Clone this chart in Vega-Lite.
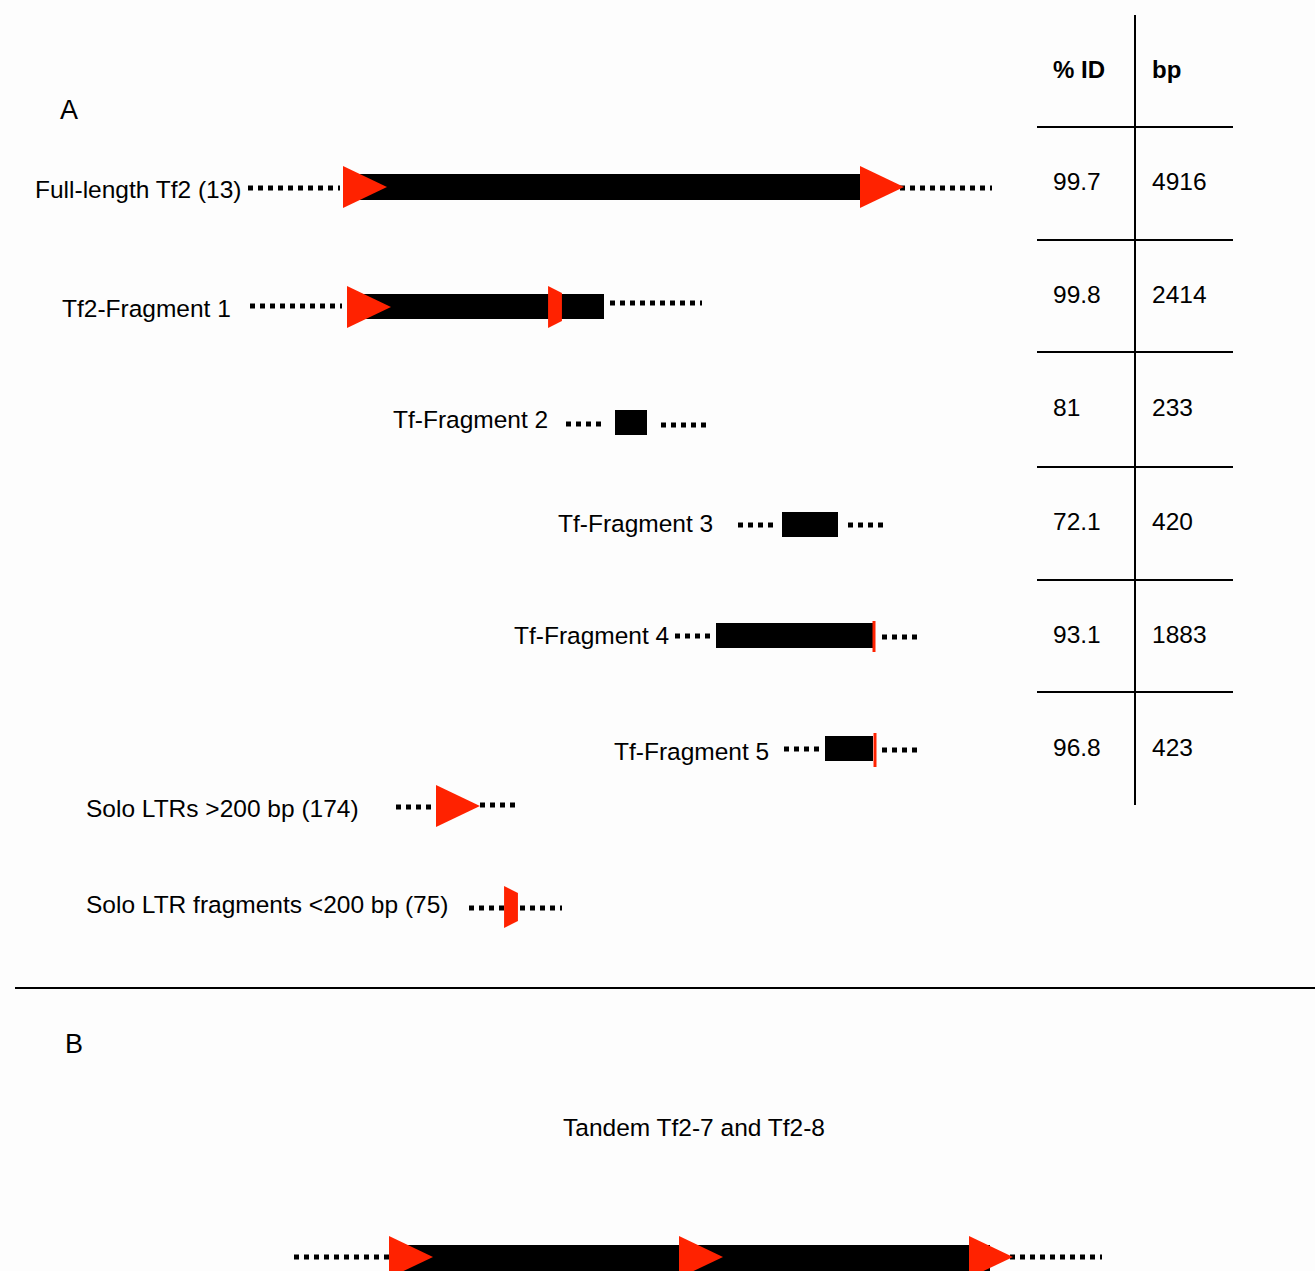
{
  "$schema": "https://vega.github.io/schema/vega-lite/v6.json",
  "width": 1315,
  "height": 1271,
  "autosize": {"type": "none"},
  "padding": 0,
  "background": "#fdfdfd",
  "config": {"view": {"stroke": null}, "text": {"font": "Liberation Sans", "color": "#000000"}},
  "datasets": {
    "lines": [
      {"x": 1135, "x2": 1135, "y": 15, "y2": 805},
      {"x": 1037, "x2": 1233, "y": 127, "y2": 127},
      {"x": 1037, "x2": 1233, "y": 240, "y2": 240},
      {"x": 1037, "x2": 1233, "y": 352, "y2": 352},
      {"x": 1037, "x2": 1233, "y": 467, "y2": 467},
      {"x": 1037, "x2": 1233, "y": 580, "y2": 580},
      {"x": 1037, "x2": 1233, "y": 692, "y2": 692},
      {"x": 15, "x2": 1315, "y": 988, "y2": 988}
    ],
    "dots": [
      {"x": 248, "x2": 340, "y": 188}, {"x": 900, "x2": 992, "y": 188},
      {"x": 250, "x2": 342, "y": 306}, {"x": 610, "x2": 702, "y": 303},
      {"x": 566, "x2": 604, "y": 424}, {"x": 661, "x2": 708, "y": 425},
      {"x": 738, "x2": 776, "y": 525}, {"x": 848, "x2": 888, "y": 525},
      {"x": 675, "x2": 713, "y": 636}, {"x": 882, "x2": 922, "y": 637},
      {"x": 784, "x2": 822, "y": 749}, {"x": 882, "x2": 922, "y": 750},
      {"x": 396, "x2": 434, "y": 807}, {"x": 480, "x2": 518, "y": 805},
      {"x": 469, "x2": 507, "y": 908}, {"x": 520, "x2": 562, "y": 908},
      {"x": 294, "x2": 390, "y": 1257}, {"x": 1010, "x2": 1102, "y": 1257}
    ],
    "bars": [
      {"x": 360, "x2": 865, "y": 174, "y2": 200},
      {"x": 360, "x2": 604, "y": 294, "y2": 319},
      {"x": 615, "x2": 647, "y": 410, "y2": 435},
      {"x": 782, "x2": 838, "y": 512, "y2": 537},
      {"x": 716, "x2": 873, "y": 623, "y2": 648},
      {"x": 825, "x2": 873, "y": 736, "y2": 761},
      {"x": 400, "x2": 990, "y": 1245, "y2": 1271}
    ],
    "triangles": [
      {"x": 365, "y": 187}, {"x": 882, "y": 187},
      {"x": 369, "y": 307},
      {"x": 458, "y": 806},
      {"x": 411, "y": 1257}, {"x": 701, "y": 1257}, {"x": 991, "y": 1257}
    ],
    "cuts": [
      {"x": 555, "y": 307}, {"x": 511, "y": 907}
    ],
    "ticks": [
      {"x": 874, "y": 621, "y2": 652},
      {"x": 875, "y": 733, "y2": 767}
    ],
    "labels": [
      {"label": "Full-length Tf2 (13)", "x": 35, "y": 191},
      {"label": "Tf2-Fragment 1", "x": 62, "y": 310},
      {"label": "Tf-Fragment 2", "x": 393, "y": 421},
      {"label": "Tf-Fragment 3", "x": 558, "y": 525},
      {"label": "Tf-Fragment 4", "x": 514, "y": 637},
      {"label": "Tf-Fragment 5", "x": 614, "y": 753},
      {"label": "Solo LTRs >200 bp (174)", "x": 86, "y": 810},
      {"label": "Solo LTR fragments <200 bp (75)", "x": 86, "y": 906},
      {"label": "99.7", "x": 1053, "y": 183}, {"label": "4916", "x": 1152, "y": 183},
      {"label": "99.8", "x": 1053, "y": 296}, {"label": "2414", "x": 1152, "y": 296},
      {"label": "81", "x": 1053, "y": 409}, {"label": "233", "x": 1152, "y": 409},
      {"label": "72.1", "x": 1053, "y": 523}, {"label": "420", "x": 1152, "y": 523},
      {"label": "93.1", "x": 1053, "y": 636}, {"label": "1883", "x": 1152, "y": 636},
      {"label": "96.8", "x": 1053, "y": 749}, {"label": "423", "x": 1152, "y": 749}
    ],
    "headers": [
      {"label": "% ID", "x": 1053, "y": 71},
      {"label": "bp", "x": 1152, "y": 71}
    ],
    "letters": [
      {"label": "A", "x": 60, "y": 111},
      {"label": "B", "x": 65, "y": 1045}
    ],
    "titles": [
      {"label": "Tandem Tf2-7 and Tf2-8", "x": 694, "y": 1129}
    ]
  },
  "layer": [
    {
      "data": {"name": "lines"},
      "mark": {"type": "rule", "stroke": "#000000", "strokeWidth": 2},
      "encoding": {
        "x": {"field": "x", "type": "quantitative", "scale": {"domain": [0, 1315], "nice": false, "zero": false}, "axis": null},
        "x2": {"field": "x2"},
        "y": {"field": "y", "type": "quantitative", "scale": {"domain": [0, 1271], "nice": false, "zero": false, "reverse": true}, "axis": null},
        "y2": {"field": "y2"}
      }
    },
    {
      "data": {"name": "dots"},
      "mark": {"type": "rule", "stroke": "#000000", "strokeWidth": 5, "strokeDash": [5, 5], "strokeCap": "butt"},
      "encoding": {
        "x": {"field": "x", "type": "quantitative", "axis": null},
        "x2": {"field": "x2"},
        "y": {"field": "y", "type": "quantitative", "axis": null}
      }
    },
    {
      "data": {"name": "bars"},
      "mark": {"type": "rect", "fill": "#000000"},
      "encoding": {
        "x": {"field": "x", "type": "quantitative", "axis": null},
        "x2": {"field": "x2"},
        "y": {"field": "y", "type": "quantitative", "axis": null},
        "y2": {"field": "y2"}
      }
    },
    {
      "data": {"name": "triangles"},
      "mark": {"type": "point", "shape": "M-1,-0.95L1,0L-1,0.95Z", "size": 1936, "filled": true, "fill": "#ff2200", "fillOpacity": 1, "strokeWidth": 0, "opacity": 1},
      "encoding": {
        "x": {"field": "x", "type": "quantitative", "axis": null},
        "y": {"field": "y", "type": "quantitative", "axis": null}
      }
    },
    {
      "data": {"name": "cuts"},
      "mark": {"type": "point", "shape": "M-0.33,-1L0.33,-0.67L0.33,0.67L-0.33,1Z", "size": 1764, "filled": true, "fill": "#ff2200", "fillOpacity": 1, "strokeWidth": 0, "opacity": 1},
      "encoding": {
        "x": {"field": "x", "type": "quantitative", "axis": null},
        "y": {"field": "y", "type": "quantitative", "axis": null}
      }
    },
    {
      "data": {"name": "ticks"},
      "mark": {"type": "rule", "stroke": "#ff2200", "strokeWidth": 3},
      "encoding": {
        "x": {"field": "x", "type": "quantitative", "axis": null},
        "y": {"field": "y", "type": "quantitative", "axis": null},
        "y2": {"field": "y2"}
      }
    },
    {
      "data": {"name": "labels"},
      "mark": {"type": "text", "align": "left", "baseline": "middle", "fontSize": 24.5},
      "encoding": {
        "x": {"field": "x", "type": "quantitative", "axis": null},
        "y": {"field": "y", "type": "quantitative", "axis": null},
        "text": {"field": "label"}
      }
    },
    {
      "data": {"name": "headers"},
      "mark": {"type": "text", "align": "left", "baseline": "middle", "fontSize": 24, "fontWeight": "bold"},
      "encoding": {
        "x": {"field": "x", "type": "quantitative", "axis": null},
        "y": {"field": "y", "type": "quantitative", "axis": null},
        "text": {"field": "label"}
      }
    },
    {
      "data": {"name": "letters"},
      "mark": {"type": "text", "align": "left", "baseline": "middle", "fontSize": 27},
      "encoding": {
        "x": {"field": "x", "type": "quantitative", "axis": null},
        "y": {"field": "y", "type": "quantitative", "axis": null},
        "text": {"field": "label"}
      }
    },
    {
      "data": {"name": "titles"},
      "mark": {"type": "text", "align": "center", "baseline": "middle", "fontSize": 24.5},
      "encoding": {
        "x": {"field": "x", "type": "quantitative", "axis": null},
        "y": {"field": "y", "type": "quantitative", "axis": null},
        "text": {"field": "label"}
      }
    }
  ]
}
